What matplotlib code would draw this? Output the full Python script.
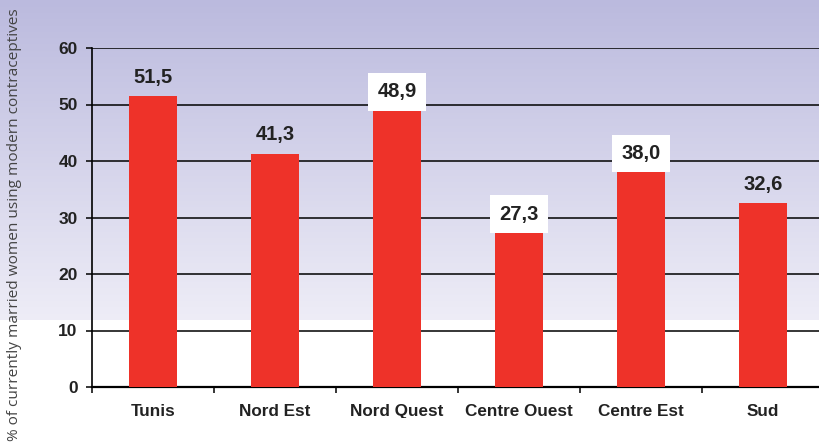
import numpy as np
import matplotlib.pyplot as plt
from matplotlib.patches import Rectangle

plt.rcParams['font.family'] = ['Liberation Sans', 'DejaVu Sans']

regions = ['Tunis', 'Nord Est', 'Nord Quest', 'Centre Ouest', 'Centre Est', 'Sud']
values = [51.5, 41.3, 48.9, 27.3, 38.0, 32.6]
boxed = [False, False, True, True, True, False]

W, H = 819, 442
fig = plt.figure(figsize=(W / 100, H / 100), dpi=100)

# background: lavender fade at the top, plain white below
bg = fig.add_axes([0, 0, 1, 1], zorder=-5)
bg.set_axis_off()
rows = np.linspace(0, 1, H)[:, None]
top = np.array([187, 186, 222]) / 255
low = np.array([238, 237, 247]) / 255
grad = top + (low - top) * (rows / (320 / H))
grad = np.clip(grad, 0, 1)
grad[320:] = 1.0
img = np.repeat(grad[:, None, :], W, axis=1).reshape(H, W, 3)
bg.imshow(img, aspect='auto', extent=[0, 1, 0, 1], origin='upper')

ax = fig.add_axes([92 / W, 55 / H, 732 / W, 339 / H])
ax.patch.set_alpha(0)
ax.set_axisbelow(True)
x = np.arange(len(regions))
ax.bar(x, values, width=0.4, color='#ee3229', zorder=3)

ax.set_xlim(-0.5, 5.5)
ax.set_ylim(0, 60)
ax.set_yticks(range(0, 61, 10))
ax.yaxis.grid(True, color='black', linewidth=1.1)
for s in ['top', 'right']:
    ax.spines[s].set_visible(False)
ax.spines['left'].set_linewidth(1.2)
ax.spines['bottom'].set_linewidth(1.6)
ax.tick_params(axis='y', length=4.3, width=1.1, pad=6, labelsize=12.5)
for t in ax.get_yticklabels():
    t.set_fontweight('bold')
    t.set_color('#222222')

ax.set_xticks(x)
ax.set_xticklabels(regions, fontsize=12.3, fontweight='bold', color='#222222')
ax.set_xticks(np.arange(-0.5, 5.6, 1), minor=True)
ax.tick_params(axis='x', which='major', length=0, pad=12.5)
ax.tick_params(axis='x', which='minor', length=4.3, width=1.1)

for xi, v, b in zip(x, values, boxed):
    label = f'{v:.1f}'.replace('.', ',')
    kw = {}
    if b:
        kw['bbox'] = dict(boxstyle='square,pad=0.45', facecolor='white',
                          edgecolor='none')
    ax.annotate(label, (xi, v), xytext=(0, 13.5), textcoords='offset points',
                ha='center', va='center', fontsize=14.5, fontweight='bold',
                color='#222222', zorder=4, **kw)

fig.text(15 / W, 217 / H, '% of currently married women using modern contraceptives',
         rotation=90, ha='center', va='center', fontsize=11.1,
         family=['Open Sans', 'DejaVu Sans'], color='#444444')

# category labels run into the bottom edge
fig.add_artist(Rectangle((36 / W, 0), 1, 24 / H, transform=fig.transFigure,
                         facecolor='white', edgecolor='none', zorder=10))

fig.savefig('out.png', dpi=100)
